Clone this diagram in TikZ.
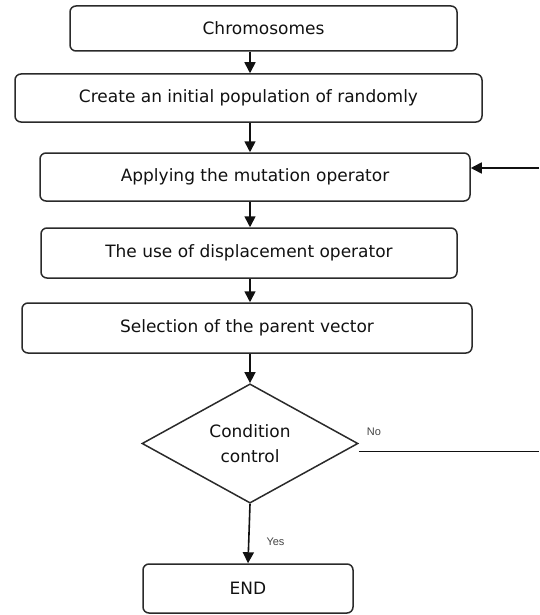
\documentclass[tikz,border=0pt]{standalone}
\usepackage{fontspec}
\setmainfont{DejaVu Sans}
\newfontfamily\labfont{Liberation Sans}
\usetikzlibrary{arrows.meta,shapes.geometric}
\definecolor{ink}{HTML}{111111}
\definecolor{ink2}{HTML}{444444}
\definecolor{frame}{HTML}{2A2A2A}
\tikzset{
  stepbox/.style={rectangle, rounded corners=6pt, draw=frame, line width=1.5pt, inner sep=0pt, align=center, text=ink, font=\fontsize{17}{25}\selectfont},
  decide/.style={diamond, draw=frame, line width=1.5pt, inner sep=0pt, align=center, text=ink, font=\fontsize{17}{25}\selectfont},
  arr/.style={-{Triangle[length=11pt,width=11pt]}, line width=1.6pt, draw=ink},
  lab/.style={font=\labfont\fontsize{11}{13}\selectfont, text=ink2},
}

\begin{document}
\begin{tikzpicture}[x=1pt,y=-1pt]
  \useasboundingbox (0,0) rectangle (539,615);
  \node[stepbox, minimum width=387pt, minimum height=45pt] (chrom) at (263.5,28.5) {Chromosomes};
  \node[stepbox, minimum width=467pt, minimum height=48pt] (create) at (248.5,98) {Create an initial population of randomly};
  \node[stepbox, minimum width=430pt, minimum height=48pt] (apply) at (255,177) {Applying the mutation operator};
  \node[stepbox, minimum width=416pt, minimum height=50pt] (displace) at (249,253) {The use of displacement operator};
  \node[stepbox, minimum width=450pt, minimum height=50pt] (select) at (247,328) {Selection of the parent vector};
  \node[decide, minimum width=216pt, minimum height=115pt] (cond) at (250,443.5) {Condition\\control};
  \node[stepbox, minimum width=210pt, minimum height=49pt] (finish) at (248,588.5) {END};
  \coordinate (spine) at (250,0);
  \coordinate (noEnd) at (539,451.5);
  \coordinate (loopIn) at (539,168);
  % main flow
  \draw[arr] (chrom.south -| spine) -- (create.north -| spine);
  \draw[arr] (create.south -| spine) -- (apply.north -| spine);
  \draw[arr] (apply.south -| spine) -- (displace.north -| spine);
  \draw[arr] (displace.south -| spine) -- (select.north -| spine);
  \draw[arr] (select.south -| spine) -- (cond.north);
  \draw[arr] (cond.south) -- (finish.north);
  \node[lab] (yeslab) at (275.5,542) {Yes};
  % loop back
  \draw[line width=1.6pt, draw=ink] (cond.east |- noEnd) -- (noEnd);
  \node[lab] (nolab) at (374,432) {No};
  \draw[arr] (loopIn) -- (apply.east |- loopIn);
\end{tikzpicture}
\end{document}
